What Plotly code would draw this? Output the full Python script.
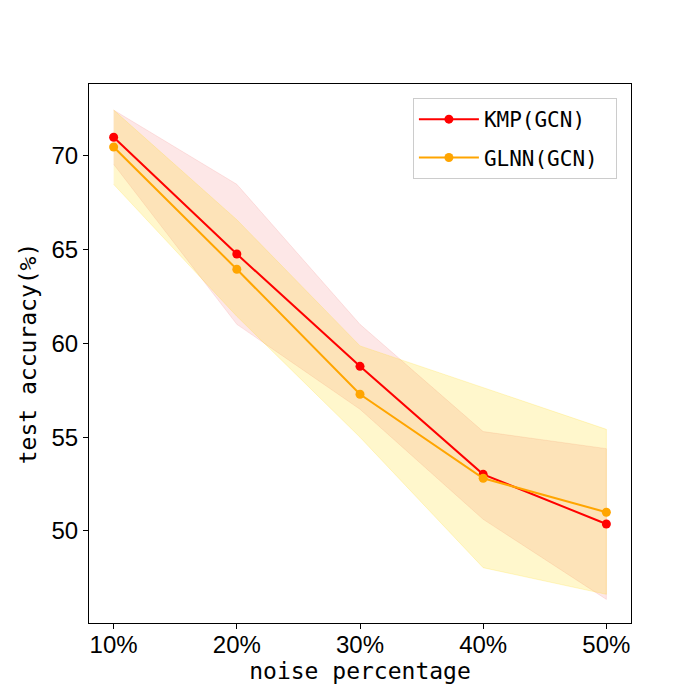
import plotly.graph_objects as go

noise = [10, 20, 30, 40, 50]
x_ticklabels = ["10%", "20%", "30%", "40%", "50%"]

kmp_mean = [71.0, 64.77, 58.78, 53.02, 50.37]
kmp_upper = [72.45, 68.49, 61.02, 55.30, 54.39]
kmp_lower = [69.56, 61.02, 56.49, 50.62, 46.35]

glnn_mean = [70.48, 63.96, 57.29, 52.81, 51.0]
glnn_upper = [72.45, 66.6, 59.87, 57.64, 55.42]
glnn_lower = [68.49, 61.45, 55.0, 48.04, 46.62]

y_ticks = [50, 55, 60, 65, 70]

label_font = "DejaVu Sans Mono, Liberation Mono, monospace"
tick_font = "Liberation Sans, Arial, sans-serif"

fig = go.Figure()

# bands
fig.add_trace(go.Scatter(
    x=noise + noise[::-1], y=kmp_upper + kmp_lower[::-1],
    fill="toself", fillcolor="rgba(235,40,40,0.11)",
    line=dict(color="rgba(235,40,40,0.1)", width=1),
    mode="lines", showlegend=False, hoverinfo="skip"))
fig.add_trace(go.Scatter(
    x=noise + noise[::-1], y=glnn_upper + glnn_lower[::-1],
    fill="toself", fillcolor="rgba(255,215,0,0.2)",
    line=dict(color="rgba(255,215,0,0.2)", width=1),
    mode="lines", showlegend=False, hoverinfo="skip"))

# lines
fig.add_trace(go.Scatter(
    x=noise, y=kmp_mean, mode="lines+markers", name="KMP(GCN)\u00a0",
    legendgroup="kmp",
    line=dict(color="red", width=2), marker=dict(color="red", size=9)))
fig.add_trace(go.Scatter(
    x=noise, y=glnn_mean, mode="lines+markers", name="GLNN(GCN)\u00a0",
    legendgroup="glnn",
    line=dict(color="orange", width=2), marker=dict(color="orange", size=9)))

fig.update_layout(
    width=700, height=700,
    margin=dict(l=81, r=77, t=76, b=85),
    paper_bgcolor="white", plot_bgcolor="white",
    legend=dict(
        x=0.974, y=0.974, xanchor="right", yanchor="top",
        bordercolor="#cccccc", borderwidth=1, bgcolor="white",
        font=dict(family=label_font, size=21, color="black"),
        itemwidth=60, tracegroupgap=8,
    ),
)

fig.update_xaxes(
    range=[8, 52], tickvals=noise, ticktext=x_ticklabels,
    showgrid=False, zeroline=False,
    showline=True, linecolor="black", linewidth=1, mirror=True,
    ticks="outside", ticklen=5, tickcolor="black",
    ticklabelstandoff=-5,
    tickfont=dict(family=tick_font, size=24, color="black"),
    title=dict(text="noise percentage", font=dict(family=label_font, size=23, color="black"), standoff=4),
)
fig.update_yaxes(
    range=[45.09, 73.84], tickvals=y_ticks,
    showgrid=False, zeroline=False,
    showline=True, linecolor="black", linewidth=1, mirror=True,
    ticks="outside", ticklen=5, tickcolor="black",
    tickfont=dict(family=tick_font, size=24, color="black"),
    title=dict(text="test accuracy(%)", font=dict(family=label_font, size=23, color="black"), standoff=8),
)

fig.write_html("out.html")
